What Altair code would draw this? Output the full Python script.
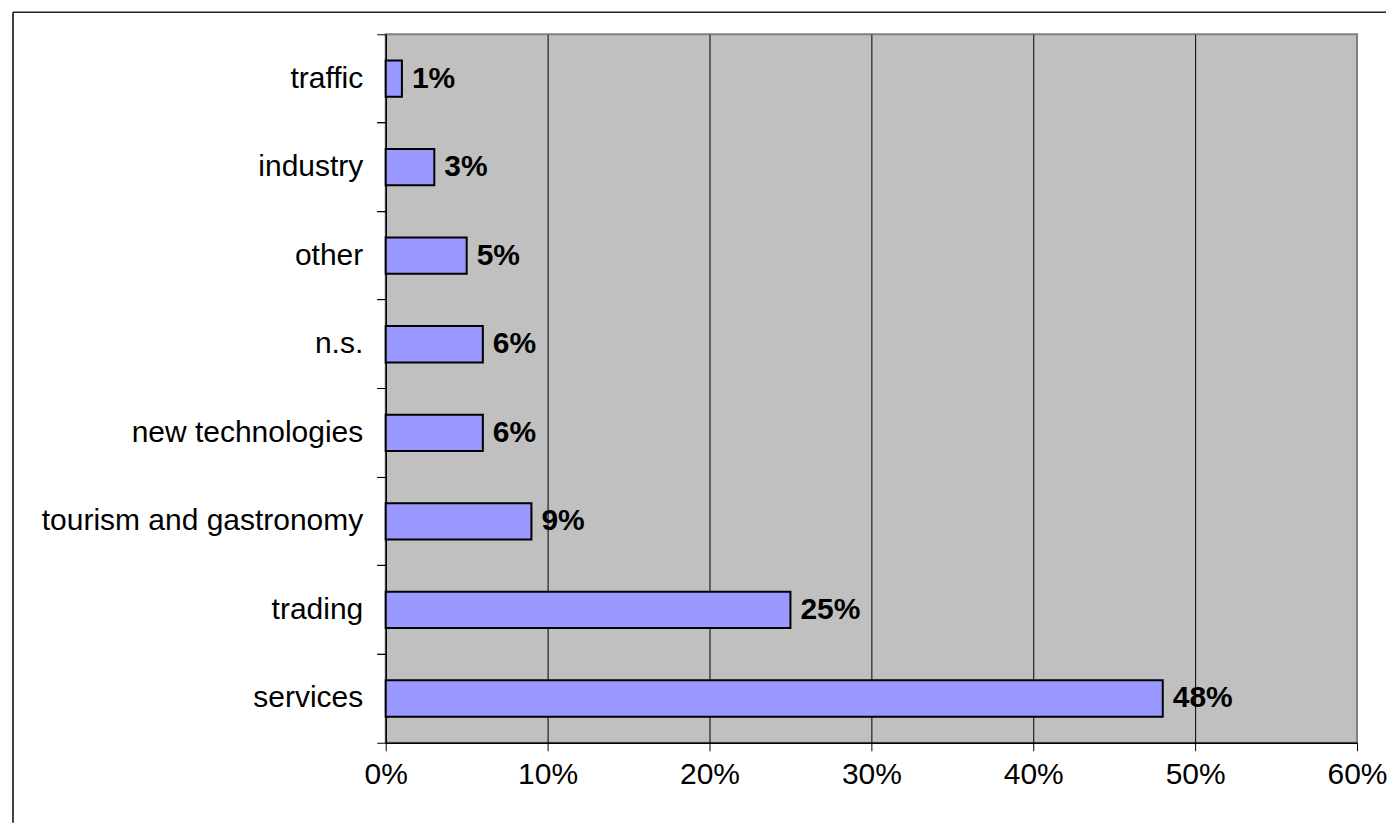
import altair as alt
import pandas as pd

categories = ["traffic", "industry", "other", "n.s.", "new technologies",
              "tourism and gastronomy", "trading", "services"]
values = [0.01, 0.03, 0.05, 0.06, 0.06, 0.09, 0.25, 0.48]
value_labels = ["1%", "3%", "5%", "6%", "6%", "9%", "25%", "48%"]
x_ticks = [0.0, 0.1, 0.2, 0.3, 0.4, 0.5, 0.6]

df = pd.DataFrame({"cat": categories, "val": values, "lab": value_labels})

FONT = "Liberation Sans"
FS = 30

yscale = alt.Scale(domain=categories, paddingInner=0, paddingOuter=0)
xscale = alt.Scale(domain=[0, 0.6], nice=False)

xaxis = alt.Axis(values=x_ticks, format=".0%", grid=True,
                 gridColor="black", gridWidth=1,
                 gridOpacity=alt.condition("datum.value > 0.55 || datum.value < 0.05",
                                           alt.value(0), alt.value(1)),
                 tickSize=8, tickColor="black", labelPadding=9, labelFlush=False,
                 labelFontSize=FS, labelFont=FONT, labelColor="black",
                 domainColor="black", domainWidth=1.5)

bars = alt.Chart(df).mark_bar(
    color="#9999FF", stroke="black", strokeWidth=2, height={"band": 0.41}
).encode(
    y=alt.Y("cat:N", scale=yscale, sort=categories, title=None,
            axis=alt.Axis(bandPosition=0, tickSize=9, labelPadding=14,
                          labelFontSize=FS, labelFont=FONT, labelColor="black",
                          domainColor="black", domainWidth=1.5, tickColor="black",
                          tickWidth=1, grid=False, orient="left", labelLimit=600)),
    x=alt.X("val:Q", scale=xscale, title=None, axis=xaxis),
)

texts = alt.Chart(df).mark_text(
    align="left", baseline="middle", dx=10, fontSize=FS, font=FONT,
    fontWeight="bold", color="black"
).encode(
    y=alt.Y("cat:N", scale=yscale, sort=categories, title=None,
            axis=alt.Axis(bandPosition=1, labels=False, domain=False, tickSize=9,
                          tickColor="black", tickWidth=1, grid=False, orient="left")),
    x=alt.X("val:Q", scale=xscale, title=None, axis=xaxis),
    text="lab:N",
)

frame_df = pd.DataFrame({"a": [0]})
frame_top = alt.Chart(frame_df).mark_rule(color="#222222", strokeWidth=1.5).encode(
    x=alt.value(-373), x2=alt.value(1001), y=alt.value(-22))
frame_left = alt.Chart(frame_df).mark_rule(color="black", strokeWidth=1.5).encode(
    x=alt.value(-373), y=alt.value(-22), y2=alt.value(789))

chart = alt.layer(bars, texts, frame_top, frame_left).resolve_axis(
    y="independent"
).properties(
    width=972, height=709,
    padding={"left": 4, "top": 3, "right": 0, "bottom": 0},
    background="white",
).configure_view(
    fill="#C0C0C0", stroke="#808080", strokeWidth=2
)

chart.save("out.html", embed_options={"renderer": "svg", "actions": False})
